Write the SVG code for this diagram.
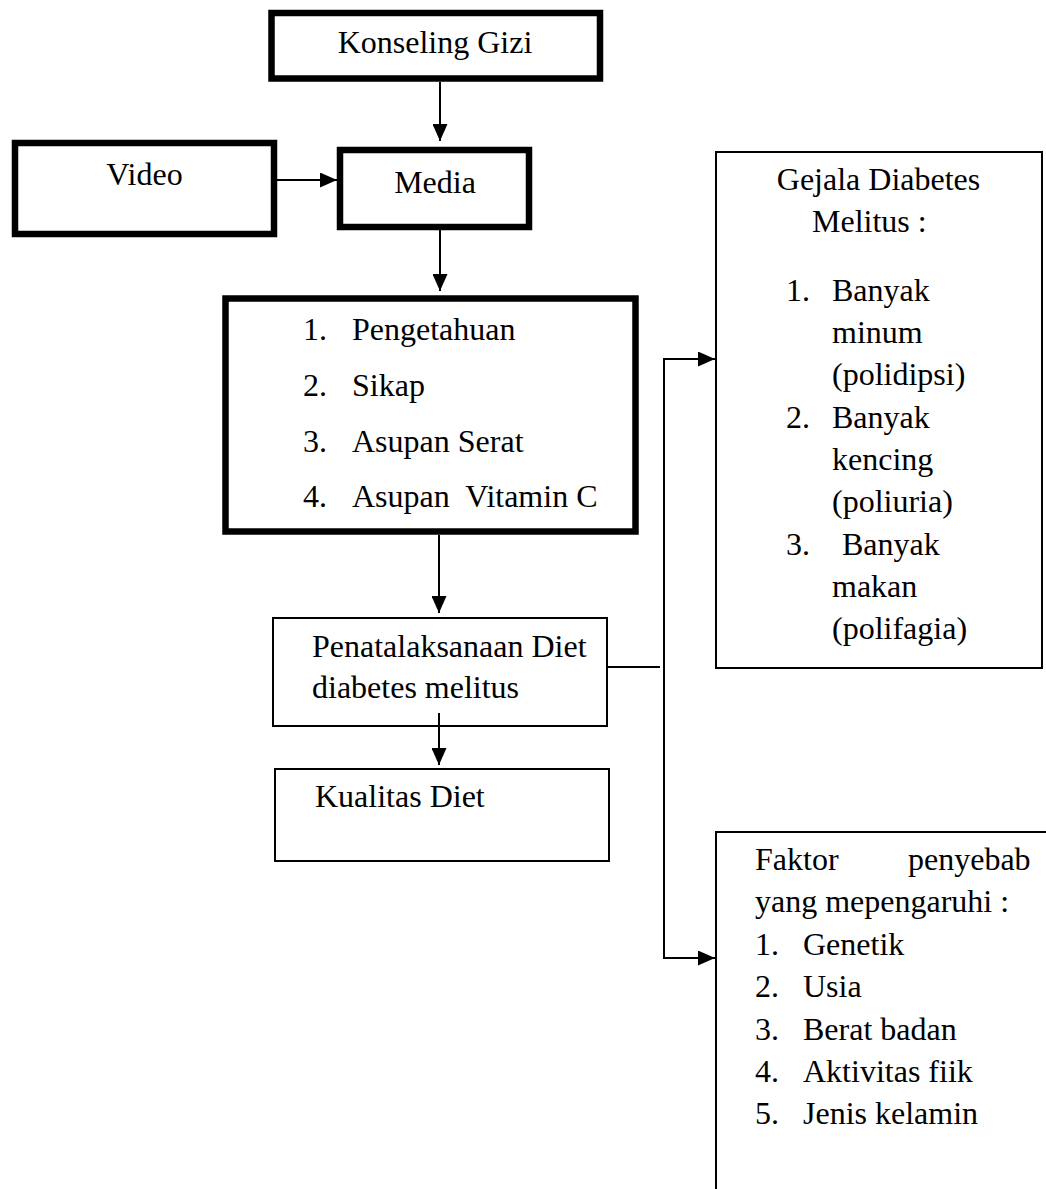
<svg xmlns="http://www.w3.org/2000/svg" width="1046" height="1189" viewBox="0 0 1046 1189">
<style>
  .t { font-family: "Liberation Serif", "Times New Roman", serif; font-size: 32px; fill: #000; }
  .thick { fill: #fff; stroke: #000; stroke-width: 6.5; }
  .thin { fill: #fff; stroke: #000; stroke-width: 2; }
  .c { fill: none; stroke: #000; stroke-width: 2; }
  .m { text-anchor: middle; }
</style>
<defs>
  <marker id="ah" viewBox="0 0 17 15" refX="17" refY="7.5" markerWidth="17" markerHeight="15" markerUnits="userSpaceOnUse" orient="auto">
    <path d="M0,0 L17,7.5 L0,15 Z" fill="#000"/>
  </marker>
</defs>
<rect width="1046" height="1189" fill="#fff"/>

<g id="konseling">
  <rect class="thick" x="271.5" y="13" width="328.5" height="65.5"/>
  <text class="t m" x="435" y="53">Konseling Gizi</text>
</g>
<g id="video">
  <rect class="thick" x="15" y="143" width="259" height="91"/>
  <text class="t m" x="144.5" y="185">Video</text>
</g>
<g id="media">
  <rect class="thick" x="340" y="150" width="189" height="77"/>
  <text class="t m" x="435" y="193">Media</text>
</g>
<g id="variabel">
  <rect class="thick" x="225.5" y="298.5" width="410" height="233"/>
  <text class="t" x="303" y="340">1.</text><text class="t" x="352" y="340">Pengetahuan</text>
  <text class="t" x="303" y="396">2.</text><text class="t" x="352" y="396">Sikap</text>
  <text class="t" x="303" y="452">3.</text><text class="t" x="352" y="452">Asupan Serat</text>
  <text class="t" x="303" y="507">4.</text><text class="t" x="352" y="507" xml:space="preserve">Asupan  Vitamin C</text>
</g>
<g id="penatalaksanaan">
  <rect class="thin" x="273" y="618" width="334" height="108"/>
  <text class="t" x="312" y="657">Penatalaksanaan Diet</text>
  <text class="t" x="312" y="698">diabetes melitus</text>
</g>
<g id="kualitas">
  <rect class="thin" x="275" y="769" width="334" height="92"/>
  <text class="t" x="315" y="807">Kualitas Diet</text>
</g>
<g id="gejala">
  <rect class="thin" x="716" y="152" width="326" height="516"/>
  <text class="t m" x="878.5" y="190">Gejala Diabetes</text>
  <text class="t" x="812" y="232">Melitus :</text>
  <text class="t" x="786" y="301">1.</text><text class="t" x="832" y="301">Banyak</text>
  <text class="t" x="832" y="343">minum</text>
  <text class="t" x="832" y="385">(polidipsi)</text>
  <text class="t" x="786" y="428">2.</text><text class="t" x="832" y="428">Banyak</text>
  <text class="t" x="832" y="470">kencing</text>
  <text class="t" x="832" y="512">(poliuria)</text>
  <text class="t" x="786" y="555">3.</text><text class="t" x="842" y="555">Banyak</text>
  <text class="t" x="832" y="597">makan</text>
  <text class="t" x="832" y="639">(polifagia)</text>
</g>
<g id="faktor">
  <rect class="thin" x="716" y="832" width="360" height="420"/>
  <text class="t" x="755" y="870">Faktor <tspan x="908">penyebab</tspan></text>
  <text class="t" x="755" y="912">yang mepengaruhi :</text>
  <text class="t" x="755" y="955">1.</text><text class="t" x="803" y="955">Genetik</text>
  <text class="t" x="755" y="997">2.</text><text class="t" x="803" y="997">Usia</text>
  <text class="t" x="755" y="1040">3.</text><text class="t" x="803" y="1040">Berat badan</text>
  <text class="t" x="755" y="1082">4.</text><text class="t" x="803" y="1082">Aktivitas fiik</text>
  <text class="t" x="755" y="1124">5.</text><text class="t" x="803" y="1124">Jenis kelamin</text>
</g>

<g id="connectors">
  <line class="c" x1="440" y1="82" x2="440" y2="141" marker-end="url(#ah)"/>
  <line class="c" x1="277" y1="180" x2="337" y2="180" marker-end="url(#ah)"/>
  <line class="c" x1="440" y1="230" x2="440" y2="291" marker-end="url(#ah)"/>
  <line class="c" x1="439" y1="535" x2="439" y2="613" marker-end="url(#ah)"/>
  <line class="c" x1="439" y1="713" x2="439" y2="765" marker-end="url(#ah)"/>
  <line class="c" x1="608" y1="667" x2="660" y2="667"/>
  <line class="c" x1="664" y1="358" x2="664" y2="959"/>
  <line class="c" x1="663" y1="359" x2="715" y2="359" marker-end="url(#ah)"/>
  <line class="c" x1="663" y1="958" x2="715" y2="958" marker-end="url(#ah)"/>
</g>
</svg>
